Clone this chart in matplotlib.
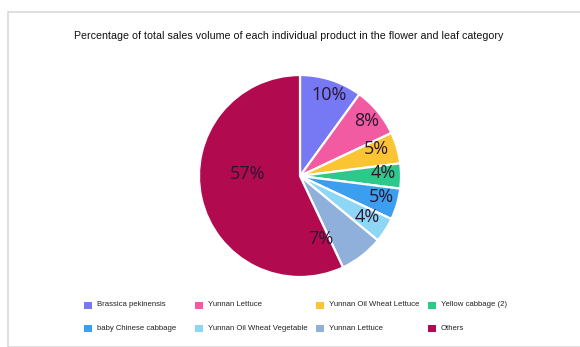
import numpy as np
import matplotlib.pyplot as plt
from matplotlib.patches import Rectangle

# share of total sales volume, flower & leaf category
products = ["Brassica pekinensis", "Yunnan Lettuce", "Yunnan Oil Wheat Lettuce",
            "Yellow cabbage (2)", "baby Chinese cabbage", "Yunnan Oil Wheat Vegetable",
            "Yunnan Lettuce", "Others"]
shares = [10, 8, 5, 4, 5, 4, 7, 57]

COLORS = ["#7678f4", "#f25ba1", "#fbc433", "#2cc98a",
          "#3c9eee", "#8ed6f6", "#8fb0db", "#b20a4f"]

TEXT_FONT = "Liberation Sans"
LABEL_FONT = "Open Sans"

W, H = 580, 347
fig = plt.figure(figsize=(W / 100, H / 100), dpi=100)
fig.patch.set_facecolor("white")

# light frame around the chart
fig.add_artist(Rectangle((8 / W, 0), 1, 1 - 12 / H, transform=fig.transFigure,
                         fill=False, edgecolor="#d9d9d9", linewidth=1.2))

fig.text(0.497, 1 - 36 / H,
         "Percentage of total sales volume of each individual product in the flower and leaf category",
         ha="center", va="center", fontsize=7.7, family=TEXT_FONT, color="#111111")

# pie axes: centre (300, 176), radius ~101 px
cx, cy, r = 300, 176, 101
ax = fig.add_axes([(cx - r) / W, (H - cy - r) / H, 2 * r / W, 2 * r / H])
wedges, _ = ax.pie(shares, colors=COLORS, startangle=90, counterclock=False,
                   radius=1, wedgeprops=dict(edgecolor="white", linewidth=1.6))
ax.set_xlim(-1, 1)
ax.set_ylim(-1, 1)
ax.set_aspect("equal")
ax.axis("off")

# label placement: radius and angular nudge (degrees, ccw) per slice
label_r = [0.85, 0.86, 0.80, 0.82, 0.83, 0.78, 0.66, 0.52]
label_shift = [-2, 0, 3, 2, 2, 1, -20, -15]
for w, s, lr, sh in zip(wedges, shares, label_r, label_shift):
    ang = np.deg2rad((w.theta1 + w.theta2) / 2 + sh)
    ax.text(lr * np.cos(ang), lr * np.sin(ang), f"{s}%", ha="center", va="center",
            fontsize=13, family=LABEL_FONT, color="#2a1630")

# legend laid out in two rows of four
legend_rows_y = [305, 328]
marker_x = [84, 195, 316, 428]
for i, (name, col) in enumerate(zip(products, COLORS)):
    row, c = divmod(i, 4)
    y = legend_rows_y[row]
    fig.add_artist(Rectangle((marker_x[c] / W, (H - y - 3.5) / H), 8 / W, 7 / H,
                             transform=fig.transFigure, facecolor=col, edgecolor="none"))
    fig.text((marker_x[c] + 13) / W, 1 - y / H, name, ha="left", va="center",
             fontsize=5.6, family=TEXT_FONT, color="#222222")

fig.savefig("out.png", dpi=100)
